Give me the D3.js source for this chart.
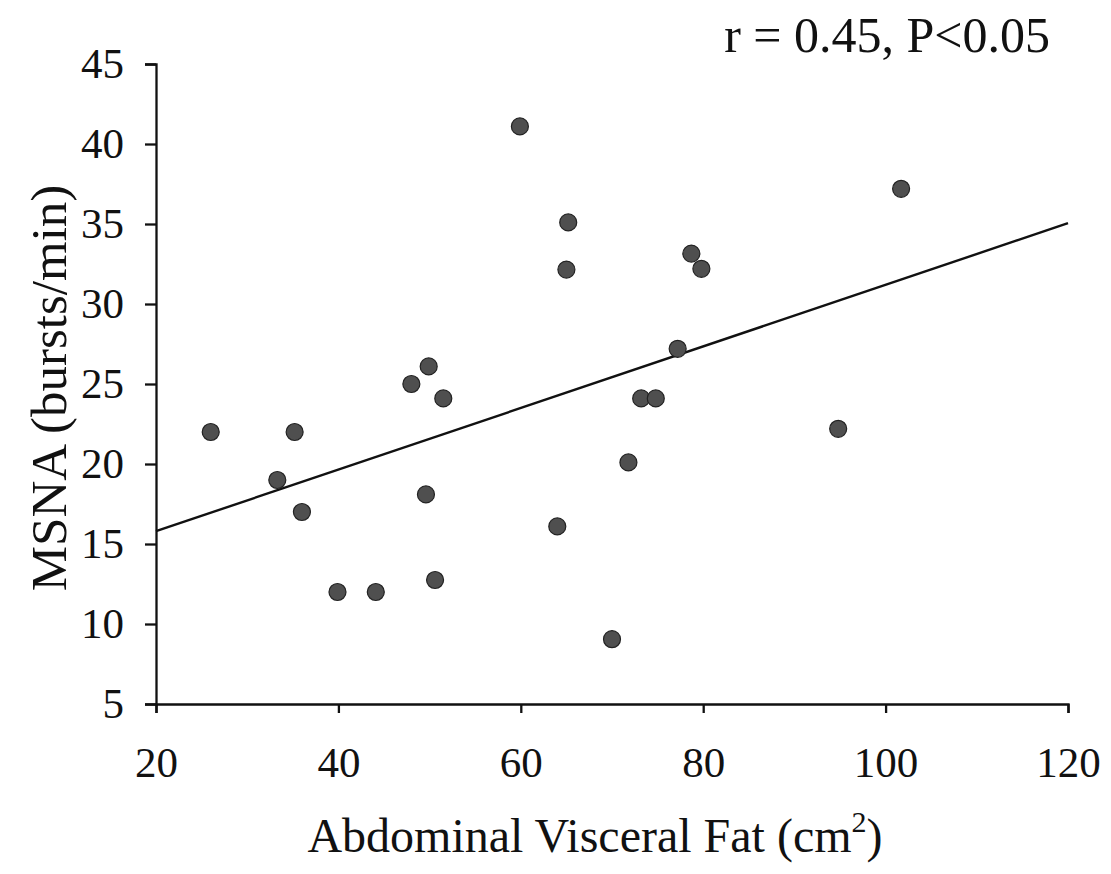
<!DOCTYPE html>
<html>
<head>
<meta charset="utf-8">
<script src="https://cdn.jsdelivr.net/npm/d3@7"></script>
<style>
  html, body { margin: 0; padding: 0; background: #fff; }
  svg { display: block; }
  text { font-family: "Liberation Serif", "Times New Roman", serif; fill: #111; }
</style>
</head>
<body>
<svg id="chart" width="1111" height="874"></svg>
<script>
// Abdominal visceral fat (cm^2)
const fatValues = [26.0, 35.2, 33.3, 36.0, 39.9, 44.1, 48.0, 49.9, 51.5, 49.6, 50.6, 59.9,
                   65.2, 65.0, 78.7, 79.8, 77.2, 73.2, 74.8, 94.8, 71.8, 64.0, 70.0, 101.7];
// MSNA (bursts/min)
const msnaValues = [22.0, 22.0, 19.0, 17.0, 12.0, 12.0, 25.0, 26.1, 24.1, 18.1, 12.75, 41.1,
                    35.1, 32.15, 33.15, 32.2, 27.2, 24.1, 24.1, 22.2, 20.1, 16.1, 9.05, 37.2];
// regression line end points
const lineX = [20, 120];
const lineY = [15.8, 35.05];
const xTicks = [20, 40, 60, 80, 100, 120];
const yTicks = [5, 10, 15, 20, 25, 30, 35, 40, 45];

const svg = d3.select("#chart");
const x = d3.scaleLinear().domain([20, 120]).range([156, 1068]);
const y = d3.scaleLinear().domain([5, 45]).range([704, 64]);

// axes
const xAxis = svg.append("g").attr("transform", "translate(0,704)")
  .call(d3.axisBottom(x).tickValues(xTicks).tickSize(9).tickPadding(33).tickFormat(d3.format("d")));
const yAxis = svg.append("g").attr("transform", "translate(156,0)")
  .call(d3.axisLeft(y).tickValues(yTicks).tickSize(11).tickPadding(21).tickFormat(d3.format("d")));
[xAxis, yAxis].forEach(a => {
  a.select(".domain").attr("stroke", "#111").attr("stroke-width", 2.3);
  a.selectAll(".tick line").attr("stroke", "#111").attr("stroke-width", 2.3);
  a.selectAll(".tick text").attr("font-family", "Liberation Serif").attr("font-size", 43).attr("fill", "#111");
});
xAxis.selectAll(".tick text").attr("dy", "0.72em");

// regression line
svg.append("path")
  .datum(lineX.map((d, i) => [d, lineY[i]]))
  .attr("fill", "none").attr("stroke", "#111").attr("stroke-width", 2.4)
  .attr("d", d3.line().x(d => x(d[0])).y(d => y(d[1])));

// points
svg.append("g").selectAll("circle")
  .data(fatValues.map((d, i) => [d, msnaValues[i]]))
  .join("circle")
  .attr("cx", d => x(d[0])).attr("cy", d => y(d[1]))
  .attr("r", 8.5)
  .attr("fill", "#4f4f4f").attr("stroke", "#222").attr("stroke-width", 1.2);

// axis titles
const xt = svg.append("text").attr("x", 595).attr("y", 852)
  .attr("text-anchor", "middle").attr("font-size", 48);
xt.append("tspan").text("Abdominal Visceral Fat (cm");
xt.append("tspan").attr("font-size", 30).attr("dy", -20).text("2");
xt.append("tspan").attr("dy", 20).text(")");

svg.append("text")
  .attr("transform", "translate(66,388) rotate(-90)")
  .attr("text-anchor", "middle").attr("font-size", 51)
  .text("MSNA (bursts/min)");

svg.append("text").attr("x", 1050).attr("y", 52)
  .attr("text-anchor", "end").attr("font-size", 50)
  .text("r = 0.45, P<0.05");
</script>
</body>
</html>
